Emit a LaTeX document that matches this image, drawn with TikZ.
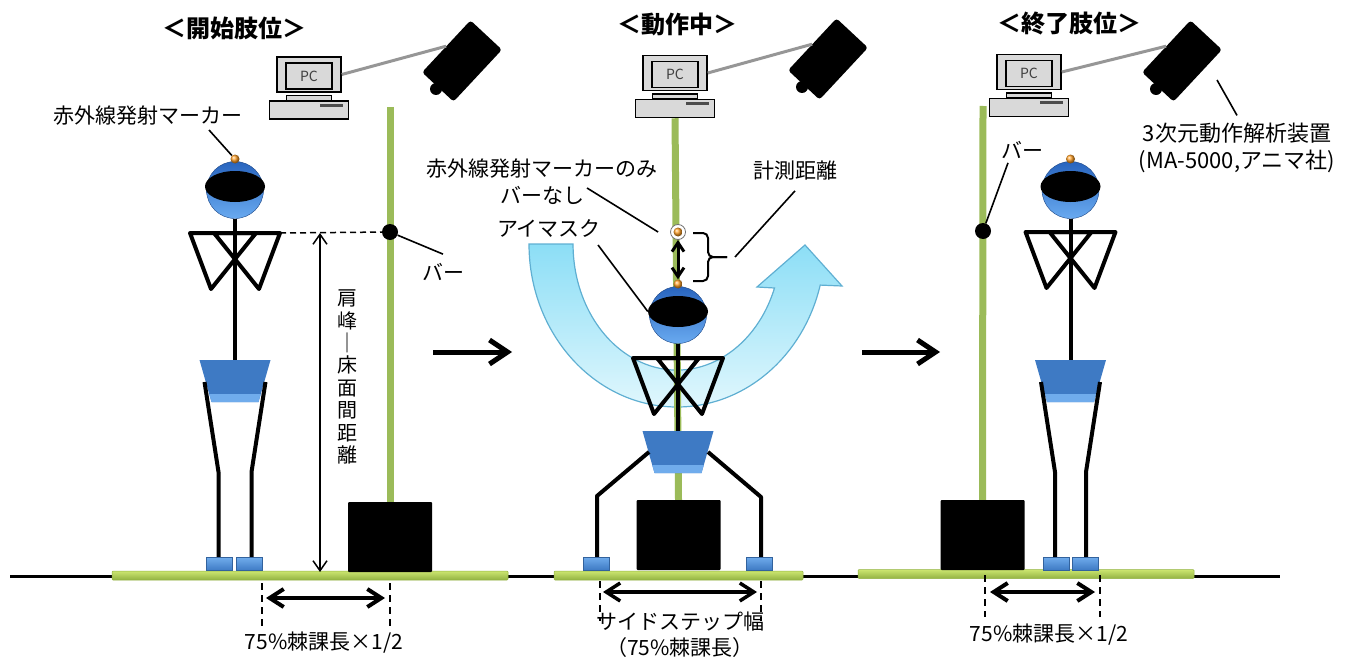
\documentclass[tikz,border=0pt]{standalone}
\usepackage{fontspec}
\setmainfont{Noto Sans CJK JP}
\usetikzlibrary{arrows.meta, positioning, shapes.geometric}

\definecolor{polegreen}{RGB}{155,187,89}
\definecolor{platelime}{RGB}{204,230,112}
\definecolor{platedark}{RGB}{146,178,66}
\definecolor{bodyblue}{RGB}{62,122,196}
\definecolor{bodylight}{RGB}{112,172,236}
\definecolor{headtop}{RGB}{40,100,190}
\definecolor{headbot}{RGB}{105,170,240}
\definecolor{markorange}{RGB}{255,160,40}
\definecolor{pcgray}{RGB}{217,217,217}
\definecolor{cablegray}{RGB}{150,150,150}
\definecolor{swingtop}{RGB}{140,222,246}
\definecolor{swingbot}{RGB}{224,247,253}
\definecolor{swingedge}{RGB}{95,175,210}

\tikzset{
  heading/.style={font=\fontsize{24}{28}\selectfont\bfseries, inner sep=0pt},
  note/.style={font=\fontsize{21}{27}\selectfont, inner sep=0pt, align=center},
  limb/.style={line width=4pt, line join=round},
  leader/.style={line width=1.6pt},
  pole/.style={line width=7pt, draw=polegreen},
  cable/.style={line width=3pt, draw=cablegray},
  floorline/.style={line width=3pt},
  guide/.style={line width=1.5pt, dash pattern=on 6pt off 4pt},
  tick/.style={line width=2pt, dash pattern=on 7pt off 5pt},
  height/.style={line width=1.5pt, {Straight Barb[length=10pt,width=14pt]}-{Straight Barb[length=10pt,width=14pt]}},
  span/.style={line width=4pt, {Straight Barb[length=14pt,width=18pt]}-{Straight Barb[length=14pt,width=18pt]}},
  gaugearrow/.style={line width=3pt, {Straight Barb[length=9pt,width=12pt]}-{Straight Barb[length=9pt,width=12pt]}},
  flow/.style={line width=5pt, -{Straight Barb[length=18pt,width=24pt]}},
  braceline/.style={line width=2pt, rounded corners=5pt},
  swing/.style={draw=swingedge, line width=1.2pt, top color=swingtop, bottom color=swingbot},
  plate/.style={rectangle, minimum height=9pt, inner sep=0pt, rounded corners=1pt,
    top color=platelime, bottom color=platedark, draw=platedark, line width=0.5pt},
  basebox/.style={rectangle, fill=black, minimum width=84pt, minimum height=70pt, inner sep=0pt, rounded corners=1pt},
  bardot/.style={circle, fill=black, minimum size=16pt, inner sep=0pt},
  foot/.style={rectangle, minimum width=26pt, minimum height=13pt, inner sep=0pt,
    top color=bodylight, bottom color=bodyblue, draw=bodyblue!80!black, line width=0.4pt},
  sphere/.style={circle, minimum size=57pt, inner sep=0pt, top color=headtop, bottom color=headbot, draw=headtop!70!black, line width=0.4pt},
  eyemask/.style={ellipse, fill=black, minimum width=60pt, minimum height=31pt, inner sep=0pt},
  marker/.style={circle, minimum size=9pt, inner sep=0pt, shading=ball, ball color=markorange},
  ring/.style={circle, minimum size=15pt, inner sep=0pt, draw=black!55, fill=white, line width=0.8pt},
  monitor/.style={rectangle, draw, line width=1.5pt, fill=pcgray, minimum width=64pt, minimum height=35pt, inner sep=0pt},
  screen/.style={rectangle, draw, line width=1.5pt, fill=pcgray, minimum width=46pt, minimum height=26pt, inner sep=0pt,
    font=\fontsize{14}{14}\selectfont, text=black!75},
  stand/.style={rectangle, draw, line width=1.2pt, fill=pcgray, minimum width=45pt, minimum height=5pt, inner sep=0pt},
  pcbase/.style={rectangle, draw, line width=1.5pt, fill=pcgray, minimum width=79pt, minimum height=18pt, inner sep=0pt},
  camerabody/.style={rectangle, fill=black, rounded corners=3pt, minimum width=71pt, minimum height=43pt, inner sep=0pt},
  % parts of the set-up
  pc/.pic={
    \node[monitor] (-monitor) at (0,0) {};
    \node[screen] (-screen) at (0,1.5) {PC};
    \node[stand] (-stand) at (0,23.5) {};
    \node[pcbase] (-base) at (0,35.5) {};
    \fill[black!70] (11,29.5) rectangle (34,32.5);
  },
  camera/.pic={
    \node[camerabody, rotate=47] (-body) at (0,0) {};
    \fill (-26,28) circle[radius=6pt];
  },
  head/.pic={
    \node[sphere] (-ball) at (0,0) {};
    \node[eyemask] (-mask) at (0,-3.5) {};
    \node[marker] (-marker) at (0,-31) {};
  },
  shoulders/.pic={
    \coordinate (-tip) at (45,0);
    \draw[limb] (-45,0) -- (21,0) -- (-24,56) -- cycle;
    \draw[limb] (-21,0) -- (45,0) -- (24,56) -- cycle;
  },
  hip/.pic={
    \coordinate (-top) at (0,0);
    \fill[bodyblue] (-35.5,0) -- (35.5,0) -- (23.5,42) -- (-23.5,42) -- cycle;
    \fill[bodylight] (-25.8,34) -- (25.8,34) -- (23.5,42) -- (-23.5,42) -- cycle;
  },
}

\begin{document}
\begin{tikzpicture}[x=1pt, y=-1pt]
\useasboundingbox (0,0) rectangle (1348,658);

% titles
\node[heading] (title1) at (234,28) {＜開始肢位＞};
\node[heading] (title2) at (677,24) {＜動作中＞};
\node[heading] (title3) at (1069,24) {＜終了肢位＞};

% PCs and cameras
\pic (pc1) at (309,74.5) {pc};
\pic (pc2) at (675,73) {pc};
\pic (pc3) at (1029,72) {pc};
\pic (cam1) at (462,61) {camera};
\pic (cam2) at (828,59) {camera};
\pic (cam3) at (1182,61) {camera};
\draw[cable] (pc1-monitor.east) -- (cam1-body.north);
\draw[cable] (pc2-monitor.east) -- (cam2-body.north);
\draw[cable] (pc3-monitor.east) -- (cam3-body.north);

% floor and plates
\coordinate (floorL) at (10,576);
\coordinate (floorR) at (1280,576);
\draw[floorline] (floorL) -- (floorR);
\node[plate, minimum width=396pt] (plate1) at (310,575.5) {};
\node[plate, minimum width=249pt] (plate2) at (678.5,575.5) {};
\node[plate, minimum width=336pt] (plate3) at (1026,574) {};

% ---- start position ----
\coordinate (pole1top) at (390,107);
\node[basebox] (box1) at (390,537) {};
\draw[pole] (pole1top) -- (box1.north);
\node[bardot] (dot1) at (390,232) {};

\pic (hip1) at (235,360) {hip};
\pic (head1) at (235,190) {head};
\draw[limb] (head1-ball.south) -- (hip1-top);
\pic (sh1) at (235,233) {shoulders};
\draw[limb] (204.5,382) -- (218.5,472) -- (218.5,558);
\draw[limb] (265.5,382) -- (251.5,472) -- (251.5,558);
\node[foot] (foot1l) at (219.5,564) {};
\node[foot] (foot1r) at (249,564) {};

\draw[guide] (sh1-tip) -- (dot1);
\coordinate (acro) at (320,233);
\coordinate (acrofloor) at (320,572);
\draw[height] (acro) -- (acrofloor);
\node[note, font=\fontsize{20}{22.4}\selectfont] (acrolbl) at (347,377) {肩\\峰\\｜\\床\\面\\間\\距\\離};

\node[note] (irm) at (148,116) {赤外線発射マーカー};
\coordinate (irmlead) at (209,130);
\draw[leader] (irmlead) -- (head1-marker);
\node[note] (bar1) at (443,272) {バー};
\draw[leader] (dot1) -- ([yshift=9pt]bar1.north);

\coordinate (w1l) at (262,583);
\coordinate (w1r) at (390,583);
\draw[tick] (w1l) -- ++(0,45);
\draw[tick] (w1r) -- ++(0,45);
\coordinate (s1l) at (266,598);
\coordinate (s1r) at (385,598);
\draw[span] (s1l) -- (s1r);
\node[note] (w1) at (324,643) {75\%棘課長×1/2};

\coordinate (go1a) at (433,352);
\coordinate (go1b) at (512,352);
\draw[flow] (go1a) -- (go1b);

% ---- during the movement ----
\path[swing] (529,244) arc[start angle=180, end angle=345.4, x radius=148pt, y radius=163pt]
  -- (842,286) -- (805,245) -- (757,287) -- (774.5,288)
  arc[start angle=339.6, end angle=180, x radius=104pt, y radius=126pt] -- cycle;

\node[basebox] (box2) at (678.5,535) {};
\draw[pole] (pc2-base.south) -- (box2.north);
\node[ring] (ring2) at (678,232) {};
\node[marker] (tipmark) at (678,232) {};

\pic (hip2) at (678,431) {hip};
\pic (head2) at (678,315) {head};
\draw[limb] (head2-ball.south) -- (hip2-top);
\pic (sh2) at (678,358) {shoulders};
\draw[limb] (649,452) -- (597,496) -- (597,558);
\draw[limb] (708,452) -- (761,497) -- (761,558);
\node[foot] (foot2l) at (596.5,563.5) {};
\node[foot] (foot2r) at (759.5,563.5) {};

\draw[gaugearrow] (ring2) -- (head2-marker);
\coordinate (bracetip) at (727,257);
\draw[braceline] (693,233) -- (708,233) -- (708,257) -- (bracetip);
\draw[braceline] (bracetip) -- (708,257) -- (708,281) -- (693,281);

\node[note] (only) at (542,181.5) {赤外線発射マーカーのみ\\バーなし};
\coordinate (onlylead) at (587,188);
\draw[leader] (onlylead) -- ([xshift=-12pt]ring2.west);
\node[note] (masklbl) at (549,228) {アイマスク};
\coordinate (masklead) at (598,245);
\draw[leader] (masklead) -- (head2-mask.west);
\node[note] (gauge) at (795,171) {計測距離};
\draw[leader] ([xshift=8pt]bracetip) -- ([yshift=-10pt]gauge.south);

\coordinate (w2l) at (600,581);
\coordinate (w2r) at (761,581);
\draw[tick] (w2l) -- ++(0,40);
\draw[tick] (w2r) -- ++(0,40);
\coordinate (s2l) at (603,592);
\coordinate (s2r) at (757,592);
\draw[span, line width=3.5pt] (s2l) -- (s2r);
\node[note, font=\fontsize{21}{26}\selectfont] (sidestep) at (680,635) {サイドステップ幅\\（75\%棘課長）};

\coordinate (go2a) at (862,352);
\coordinate (go2b) at (940,352);
\draw[flow] (go2a) -- (go2b);

% ---- end position ----
\coordinate (pole3top) at (983,106);
\node[basebox] (box3) at (982.5,535) {};
\draw[pole] (pole3top) -- (box3.north);
\node[bardot] (dot3) at (983,231) {};

\pic (hip3) at (1070.5,360) {hip};
\pic (head3) at (1070.5,190) {head};
\draw[limb] (head3-ball.south) -- (hip3-top);
\pic (sh3) at (1070.5,232) {shoulders};
\draw[limb] (1041,382) -- (1055,472) -- (1055,558);
\draw[limb] (1100,382) -- (1086,472) -- (1086,558);
\node[foot] (foot3l) at (1056,563.5) {};
\node[foot] (foot3r) at (1085.5,563.5) {};

\node[note] (bar3) at (1022,150) {バー};
\draw[leader] (dot3) -- ([xshift=-14pt,yshift=-4pt]bar3.south);
\node[note, font=\fontsize{22}{27}\selectfont] (mocap) at (1237,147.5) {3次元動作解析装置\\(MA-5000,アニマ社)};
\draw[leader] ([shift={(35,19)}]cam3-body.center) -- ([yshift=7pt]mocap.north);

\coordinate (w3l) at (985,575);
\coordinate (w3r) at (1100,575);
\draw[tick] (w3l) -- ++(0,42);
\draw[tick] (w3r) -- ++(0,42);
\coordinate (s3l) at (990,592);
\coordinate (s3r) at (1095,592);
\draw[span] (s3l) -- (s3r);
\node[note] (w3) at (1049,635) {75\%棘課長×1/2};
\end{tikzpicture}
\end{document}
